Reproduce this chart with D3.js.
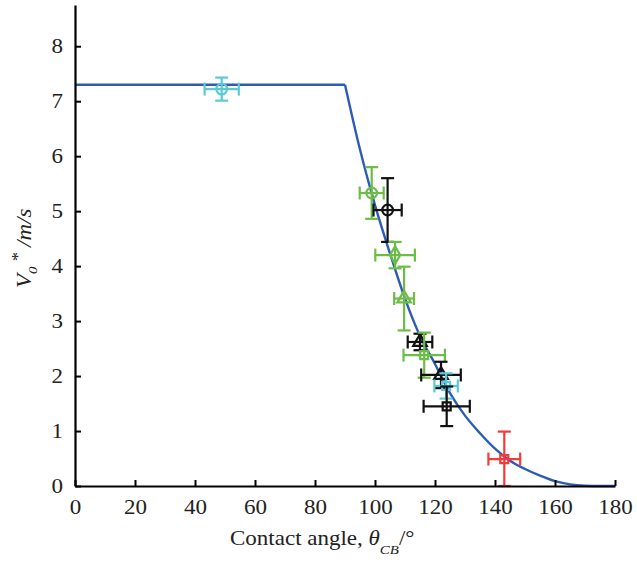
<!DOCTYPE html>
<html>
<head>
<meta charset="utf-8">
<script src="https://cdn.jsdelivr.net/npm/d3@7"></script>
<style>
  html, body { margin: 0; padding: 0; background: #fff; }
  svg { display: block; }
  text { font-family: "Liberation Serif", "Times New Roman", serif; }
</style>
</head>
<body>
<svg id="chart" width="637" height="564"></svg>
<script>
// ---- data ----
const xTicks = [0, 20, 40, 60, 80, 100, 120, 140, 160, 180];
const yTicks = [0, 1, 2, 3, 4, 5, 6, 7, 8];

// model curve
const flatAngle = [0, 90];
const flatV = [7.30, 7.30];
const curveAngle = [90, 95, 100, 105, 110, 115, 120, 125, 130, 135, 140, 145, 150, 155, 160, 165, 170, 175, 180];
const curveV     = [7.30, 6.12, 5.11, 4.23, 3.41, 2.73, 2.22, 1.69, 1.28, 0.96, 0.68, 0.46, 0.31, 0.19, 0.09, 0.03, 0.005, 0, 0];

// experimental points
const pointAngle = [48.9, 98.9, 104.2, 106.7, 109.7, 115.0, 116.4, 122.0, 123.7, 123.9, 143.1];
const pointV     = [7.22, 5.33, 5.02, 4.20, 3.41, 2.62, 2.38, 2.02, 1.82, 1.45, 0.49];
const pointXErr  = [5.7, 4.0, 4.7, 6.6, 3.3, 4.1, 6.9, 6.6, 3.9, 7.7, 5.3];
const pointYErr  = [0.21, 0.47, 0.58, 0.24, 0.58, 0.15, 0.41, 0.24, 0.23, 0.36, 0.50];
const pointShape = ["circle", "circle", "circle", "diamond", "triangle", "triangle", "square", "triangle", "square", "square", "square"];
const pointGroup = ["cyan", "green", "black", "green", "green", "black", "green", "black", "cyan", "black", "red"];

// ---- styles ----
const groupColor = { cyan: "#5cc9d9", green: "#6cbd45", black: "#111111", red: "#f23b3b" };
const lineColor = "#2e5cb5";
const stretch = 1.15;

const svg = d3.select("#chart");
const x = d3.scaleLinear().domain([0, 180]).range([75, 615]);
const y = d3.scaleLinear().domain([0, 8.75]).range([486, 5]);

// ---- curve ----
const flatData = flatAngle.map((a, i) => [a, flatV[i]]);
const curveData = curveAngle.map((a, i) => [a, curveV[i]]);
const lineGen = d3.line().x(d => x(d[0])).y(d => y(d[1]));
svg.append("path").attr("d", lineGen.curve(d3.curveLinear)(flatData))
  .attr("fill", "none").attr("stroke", lineColor).attr("stroke-width", 2.4);
svg.append("path").attr("d", lineGen.curve(d3.curveMonotoneX)(curveData))
  .attr("fill", "none").attr("stroke", lineColor).attr("stroke-width", 2.4);

// ---- points with error bars ----
const cap = 6.5;
const pts = pointAngle.map((a, i) => ({
  a, v: pointV[i], xe: pointXErr[i], ye: pointYErr[i], shape: pointShape[i], color: groupColor[pointGroup[i]]
}));

const g = svg.append("g");
pts.forEach(p => {
  const cx = x(p.a), cy = y(p.v);
  const x0 = x(p.a - p.xe), x1 = x(p.a + p.xe);
  const y0 = y(Math.max(0, p.v - p.ye)), y1 = y(p.v + p.ye);
  const gg = g.append("g").attr("stroke", p.color).attr("stroke-width", 2.2).attr("fill", "none");
  gg.append("line").attr("x1", cx).attr("x2", cx).attr("y1", y0).attr("y2", y1);
  gg.append("line").attr("x1", cx - cap).attr("x2", cx + cap).attr("y1", y1).attr("y2", y1);
  gg.append("line").attr("x1", cx - cap).attr("x2", cx + cap).attr("y1", y0).attr("y2", y0);
  gg.append("line").attr("x1", x0).attr("x2", x1).attr("y1", cy).attr("y2", cy);
  gg.append("line").attr("x1", x0).attr("x2", x0).attr("y1", cy - cap).attr("y2", cy + cap);
  gg.append("line").attr("x1", x1).attr("x2", x1).attr("y1", cy - cap).attr("y2", cy + cap);
  let sym;
  if (p.shape === "circle") sym = d3.symbol(d3.symbolCircle, 90);
  else if (p.shape === "square") sym = d3.symbol(d3.symbolSquare, 64);
  else if (p.shape === "diamond") sym = d3.symbol(d3.symbolDiamond, 90);
  else sym = d3.symbol(d3.symbolTriangle, 80);
  gg.append("path").attr("d", sym()).attr("transform", `translate(${cx},${cy})`);
});

// ---- axes ----
const xAxis = d3.axisBottom(x).tickValues(xTicks).tickSizeInner(-6).tickSizeOuter(0);
const yAxis = d3.axisLeft(y).tickValues(yTicks).tickSizeInner(-6).tickSizeOuter(0);

const gx = svg.append("g").attr("transform", "translate(0,486)").call(xAxis);
const gy = svg.append("g").attr("transform", "translate(75,0)").call(yAxis);
[gx, gy].forEach(ax => {
  ax.select(".domain").attr("stroke", "#000").attr("stroke-width", 2.2);
  ax.selectAll(".tick line").attr("stroke", "#000").attr("stroke-width", 2);
  ax.selectAll(".tick text").attr("fill", "#222").style("font-size", "20px")
    .style("font-family", '"Liberation Serif", "Times New Roman", serif');
});
gx.selectAll(".tick text").attr("y", 14).attr("dy", "0.71em").attr("transform", `scale(${stretch},1)`);
gy.selectAll(".tick text").attr("x", -12 / stretch).attr("transform", `scale(${stretch},1)`);

// ---- axis titles ----
const xt = svg.append("text").attr("transform", `translate(230,545) scale(${stretch},1)`)
  .attr("fill", "#222").style("font-size", "20px");
xt.append("tspan").text("Contact angle, ");
xt.append("tspan").attr("font-style", "italic").text("θ");
xt.append("tspan").attr("font-style", "italic").attr("font-size", "13px").attr("dy", 9).text("CB");
xt.append("tspan").attr("dy", -9).text("/°");

const yt = svg.append("text").attr("transform", `translate(31,288) rotate(-90) scale(${stretch},1)`)
  .attr("fill", "#222").style("font-size", "20px").attr("font-style", "italic");
yt.append("tspan").text("V");
yt.append("tspan").attr("font-size", "13px").attr("dy", 6).text("0");
yt.append("tspan").attr("font-size", "16px").attr("dy", -14).text(" *");
yt.append("tspan").attr("dy", 8).text(" /m/s");
</script>
</body>
</html>
